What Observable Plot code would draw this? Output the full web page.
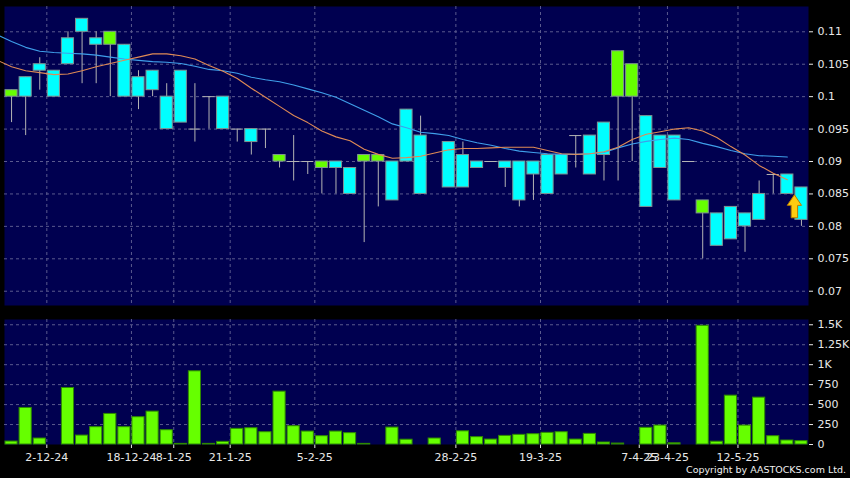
<!DOCTYPE html>
<html><head><meta charset="utf-8">
<script src="https://cdn.jsdelivr.net/npm/d3@7"></script>
<script src="https://cdn.jsdelivr.net/npm/@observablehq/plot@0.6"></script>
<style>
html,body{margin:0;padding:0;background:#000;}
#chart{position:relative;width:850px;height:478px;background:#000;overflow:hidden;font-family:"DejaVu Sans",sans-serif;}
#price{position:absolute;left:0;top:0;}
#volume{position:absolute;left:0;top:313px;}
#copy{position:absolute;right:4px;top:464px;color:#f0f0f0;font-size:9.5px;line-height:12px;white-space:nowrap;}
svg{display:block;}
</style></head>
<body>
<div id="chart"><div id="price"></div><div id="volume"></div><div id="copy">Copyright by AASTOCKS.com Ltd.</div></div>
<script>
// ---- data (one entry per trading slot, 57 slots) ----
const opens  = [0.100,0.103,0.105,0.104,0.109,0.112,0.109,0.108,0.108,0.103,0.104,0.100,0.104,0.095,0.100,0.100,0.095,0.095,0.095,0.090,0.090,0.090,0.089,0.090,0.089,0.090,0.090,0.090,0.098,0.094,null,0.093,0.091,0.090,0.090,0.090,0.090,0.090,0.091,0.091,0.094,0.094,0.096,0.100,0.100,0.097,0.094,0.094,0.090,0.082,0.082,0.083,0.082,0.085,0.088,0.088,0.086];
const closes = [0.101,0.100,0.104,0.100,0.105,0.110,0.108,0.110,0.100,0.100,0.101,0.095,0.096,0.095,0.100,0.095,0.095,0.093,0.095,0.091,0.090,0.090,0.090,0.089,0.085,0.091,0.091,0.084,0.090,0.085,null,0.086,0.086,0.089,0.090,0.089,0.084,0.088,0.085,0.088,0.094,0.088,0.091,0.107,0.105,0.083,0.089,0.084,0.090,0.084,0.077,0.078,0.080,0.081,0.088,0.085,0.081];
const highs  = [0.101,0.103,0.106,0.104,0.110,0.112,0.110,0.110,0.108,0.104,0.104,0.102,0.104,0.102,0.100,0.100,0.095,0.095,0.095,0.091,0.094,0.090,0.090,0.090,0.089,0.091,0.091,0.090,0.098,0.097,null,0.093,0.093,0.090,0.090,0.090,0.090,0.090,0.091,0.091,0.094,0.094,0.096,0.107,0.105,0.097,0.094,0.094,0.090,0.084,0.082,0.083,0.082,0.087,0.088,0.088,0.086];
const lows   = [0.096,0.094,0.101,0.100,0.105,0.102,0.102,0.100,0.100,0.098,0.100,0.095,0.096,0.093,0.095,0.095,0.093,0.091,0.092,0.089,0.087,0.088,0.085,0.085,0.085,0.0775,0.083,0.084,0.090,0.085,null,0.086,0.086,0.089,0.090,0.086,0.083,0.084,0.085,0.088,0.089,0.088,0.087,0.087,0.090,0.083,0.089,0.084,0.090,0.075,0.077,0.078,0.076,0.081,0.085,0.085,0.080];
const volumes = [37,458,75,0,708,112,217,383,217,342,412,179,8,917,8,33,196,204,154,662,229,162,104,162,142,8,0,212,60,0,75,0,165,92,62,108,121,129,146,154,62,133,25,12,0,209,237,15,0,1487,35,612,237,587,104,50,42];
// moving averages, starting one slot before the first candle (slot -1)
const maShort = [0.1056,0.1046,0.1040,0.1037,0.1034,0.1035,0.1040,0.1046,0.1051,0.1056,0.1061,0.1066,0.1066,0.1063,0.1058,0.1048,0.1039,0.1028,0.1013,0.0999,0.0985,0.0971,0.0960,0.0947,0.0938,0.0932,0.0919,0.0911,0.0905,0.0906,0.0908,0.0913,0.0918,0.0920,0.0920,0.0921,0.0922,0.0922,0.0922,0.0917,0.0912,0.0911,0.0912,0.0915,0.0922,0.0934,0.0942,0.0946,0.0950,0.0952,0.0947,0.0937,0.0923,0.0910,0.0894,0.0882,0.0872];
const maLong  = [0.1095,0.1085,0.1076,0.1070,0.1068,0.1067,0.1066,0.1064,0.1061,0.1058,0.1056,0.1054,0.1053,0.1051,0.1047,0.1042,0.1040,0.1036,0.1030,0.1026,0.1023,0.1018,0.1012,0.1006,0.0999,0.0989,0.0979,0.0969,0.0958,0.0952,0.0945,0.0943,0.0940,0.0934,0.0929,0.0925,0.0920,0.0916,0.0914,0.0912,0.0911,0.0911,0.0912,0.0914,0.0921,0.0927,0.0931,0.0934,0.0936,0.0934,0.0928,0.0923,0.0917,0.0912,0.0909,0.0908,0.0907];
const dateSlots  = [3,9,12,16,22,32,38,45,47,52];
const dateLabels = ["2-12-24","18-12-24","8-1-25","21-1-25","5-2-25","28-2-25","19-3-25","7-4-25","23-4-25","12-5-25"];
const priceTicks = [0.07,0.075,0.08,0.085,0.09,0.095,0.1,0.105,0.11];
const volumeTicks = [0,250,500,750,1000,1250,1500];
const volumeTickLabels = ["0","250","500","750","1K","1.25K","1.5K"];
const arrowSlot = 55.5;
const arrowPrice = 0.0831;

// ---- derived tables ----
const nSlots = opens.length;
const candles = opens.map((o,i)=>({i, open:o, close:closes[i], high:highs[i], low:lows[i]})).filter(d=>d.open!=null);
const bodies = candles.filter(d=>d.open!==d.close);
const dojis = candles.filter(d=>d.open===d.close);
const vols = volumes.map((v,i)=>({i, v})).filter(d=>d.v>0);
const ma = (arr)=>arr.map((v,k)=>({i:k-1, v}));
const boundaries = dateSlots.map(s=>s-0.5);
const labelAt = new Map(boundaries.map((b,k)=>[b, dateLabels[k]]));
const volLabelAt = new Map(volumeTicks.map((t,k)=>[t, volumeTickLabels[k]]));

const HALF = 0.43;
const NAVY = "#000050";
const GRID = "#5a5a8e";
const CYAN = "#00ffff";
const GREEN = "#66ff00";
const xDomain = [-0.5, nSlots - 0.5];
const baseStyle = {background:"transparent", color:"#e8e8e8", fontFamily:"DejaVu Sans, sans-serif", fontSize:"11px"};

const arrowSymbol = {
  draw(ctx, size) {
    const s = Math.sqrt(size/Math.PI);
    ctx.moveTo(0, -s);
    ctx.lineTo(0.62*s, -0.08*s);
    ctx.lineTo(0.28*s, -0.08*s);
    ctx.lineTo(0.28*s, s);
    ctx.lineTo(-0.28*s, s);
    ctx.lineTo(-0.28*s, -0.08*s);
    ctx.lineTo(-0.62*s, -0.08*s);
    ctx.closePath();
  }
};

const pricePlot = Plot.plot({
  width: 850, height: 310,
  marginLeft: 4, marginRight: 42, marginTop: 6, marginBottom: 5,
  style: baseStyle,
  x: {type:"linear", domain: xDomain, axis: null},
  y: {domain:[0.0678, 0.1139], axis:"right", ticks: priceTicks, tickFormat: d=>String(+d.toFixed(3)), tickSize: 4, tickPadding: 5, label: null},
  marks: [
    Plot.frame({fill: NAVY, stroke: "none"}),
    Plot.ruleY(priceTicks, {stroke: GRID, strokeDasharray: "3,3"}),
    Plot.ruleX(boundaries, {stroke: GRID, strokeDasharray: "3,3"}),
    Plot.ruleX(candles, {x:"i", y1:"low", y2:"high", stroke:"#b4b4b4", strokeWidth:1}),
    Plot.rect(bodies, {x1: d=>d.i-HALF, x2: d=>d.i+HALF, y1:"open", y2:"close",
      fill: d=>d.close>d.open ? GREEN : CYAN, stroke:"#7f9393", strokeWidth:1}),
    Plot.ruleY(dojis, {y:"open", x1: d=>d.i-HALF, x2: d=>d.i+HALF, stroke:"#b4b4b4", strokeWidth:1}),
    Plot.line(ma(maLong), {x:"i", y:"v", stroke:"#3f9fea", strokeWidth:1.1}),
    Plot.line(ma(maShort), {x:"i", y:"v", stroke:"#df8a55", strokeWidth:1.1}),
    Plot.dot([{i: arrowSlot, v: arrowPrice}], {x:"i", y:"v", symbol: arrowSymbol, r: 11.5, fill:"#ffcc10", stroke:"#b87a00", strokeWidth:1})
  ]
});
document.getElementById("price").appendChild(pricePlot);

const volumePlot = Plot.plot({
  width: 850, height: 165,
  marginLeft: 4, marginRight: 42, marginTop: 6, marginBottom: 34,
  style: baseStyle,
  x: {type:"linear", domain: xDomain, ticks: boundaries, tickFormat: d=>labelAt.get(d) ?? "", tickSize: 4, tickPadding: 5, label: null},
  y: {domain:[0, 1566], axis:"right", ticks: volumeTicks, tickFormat: d=>volLabelAt.get(d) ?? "", tickSize: 4, tickPadding: 5, label: null},
  marks: [
    Plot.frame({fill: NAVY, stroke: "none"}),
    Plot.ruleY(volumeTicks.filter(t=>t>0), {stroke: GRID, strokeDasharray: "3,3"}),
    Plot.ruleX(boundaries, {stroke: GRID, strokeDasharray: "3,3"}),
    Plot.rectY(vols, {x1: d=>d.i-HALF, x2: d=>d.i+HALF, y1: 0, y2: "v", fill: GREEN, stroke:"#2f8a00", strokeWidth:1})
  ]
});
document.getElementById("volume").appendChild(volumePlot);
</script>
</body></html>
